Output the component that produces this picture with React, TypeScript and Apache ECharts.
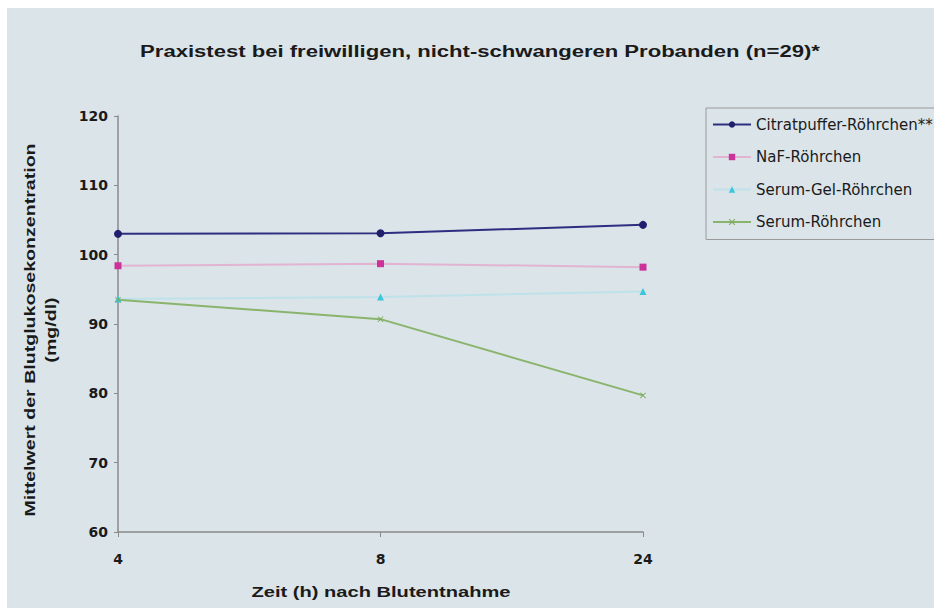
import React, { useEffect, useRef } from "react";
import * as echarts from "echarts";

const categories = ["4", "8", "24"];
const citratpuffer = [103.0, 103.1, 104.3];
const naf = [98.4, 98.7, 98.2];
const serumGel = [93.6, 93.9, 94.7];
const serum = [93.5, 90.7, 79.7];

const FONT = "Liberation Sans, Arial, sans-serif";
const WIDE = "DejaVu Sans, sans-serif";
const BG = "#dae4e9";
const INK = "#1a1a1a";

export default function App() {
  const ref = useRef<HTMLDivElement>(null);

  useEffect(() => {
    document.body.style.margin = "0";
    const chart = echarts.init(ref.current!, null, { renderer: "svg" });
    const crossSymbol =
      "path://M0,1L1,0L5,4L9,0L10,1L6,5L10,9L9,10L5,6L1,10L0,9L4,5Z";
    chart.setOption({
      animation: false,
      backgroundColor: "#ffffff",
      textStyle: { fontFamily: FONT },
      graphic: [
        {
          type: "rect",
          z: -10,
          shape: { x: 7, y: 8, width: 934, height: 608 },
          style: { fill: BG },
          silent: true,
        },
        {
          type: "text",
          x: 480,
          y: 52,
          scaleX: 1.38,
          style: {
            text: "Praxistest bei freiwilligen, nicht-schwangeren Probanden (n=29)*",
            font: `bold 16px ${FONT}`,
            fill: INK,
            align: "center",
            verticalAlign: "middle",
          },
        },
        {
          type: "text",
          x: 41,
          y: 330,
          rotation: Math.PI / 2,
          scaleX: 1.4,
          style: {
            text: "Mittelwert der Blutglukosekonzentration\n(mg/dl)",
            font: `bold 14px ${FONT}`,
            fill: INK,
            align: "center",
            verticalAlign: "middle",
            lineHeight: 21,
          },
        },
        {
          type: "text",
          x: 381,
          y: 592,
          scaleX: 1.34,
          style: {
            text: "Zeit (h) nach Blutentnahme",
            font: `bold 15px ${FONT}`,
            fill: INK,
            align: "center",
            verticalAlign: "middle",
          },
        },
      ],
      legend: {
        orient: "vertical",
        left: 706,
        top: 108,
        backgroundColor: BG,
        borderColor: "#9a9a9a",
        borderWidth: 1,
        padding: [9, 30, 10, 6],
        itemWidth: 38,
        itemHeight: 8,
        itemGap: 17.5,
        textStyle: { fontFamily: WIDE, fontSize: 15, color: INK },
      },
      grid: { left: 118, right: 291, top: 116, bottom: 76 },
      xAxis: {
        type: "category",
        data: categories,
        boundaryGap: false,
        axisLine: { lineStyle: { color: "#8a8a8a", width: 1.5 } },
        axisTick: { show: true, length: 5, lineStyle: { color: "#8a8a8a" } },
        axisLabel: {
          fontFamily: WIDE,
          fontSize: 14,
          fontWeight: "bold",
          color: INK,
          margin: 20,
        },
      },
      yAxis: {
        type: "value",
        min: 60,
        max: 120,
        interval: 10,
        splitLine: { show: false },
        axisLine: { show: true, lineStyle: { color: "#8a8a8a", width: 1.5 } },
        axisTick: { show: true, length: 4, lineStyle: { color: "#8a8a8a" } },
        axisLabel: {
          fontFamily: WIDE,
          fontSize: 14,
          fontWeight: "bold",
          color: INK,
          margin: 10,
        },
      },
      series: [
        {
          name: "Citratpuffer-Röhrchen**",
          type: "line",
          data: citratpuffer,
          symbol: "circle",
          symbolSize: 8,
          lineStyle: { color: "#2e2e80", width: 2 },
          itemStyle: { color: "#1f1f6e" },
        },
        {
          name: "NaF-Röhrchen",
          type: "line",
          data: naf,
          symbol: "rect",
          symbolSize: 7,
          lineStyle: { color: "#e2b4d2", width: 2 },
          itemStyle: { color: "#cc3399" },
        },
        {
          name: "Serum-Gel-Röhrchen",
          type: "line",
          data: serumGel,
          symbol: "triangle",
          symbolSize: 7,
          lineStyle: { color: "#bfe2ea", width: 2 },
          itemStyle: { color: "#3cc6dc" },
        },
        {
          name: "Serum-Röhrchen",
          type: "line",
          data: serum,
          symbol: crossSymbol,
          symbolSize: 6,
          lineStyle: { color: "#8ab46c", width: 2 },
          itemStyle: { color: "#7aa85c" },
        },
      ],
    });
    return () => chart.dispose();
  }, []);

  return <div ref={ref} style={{ width: 934, height: 608 }} />;
}
